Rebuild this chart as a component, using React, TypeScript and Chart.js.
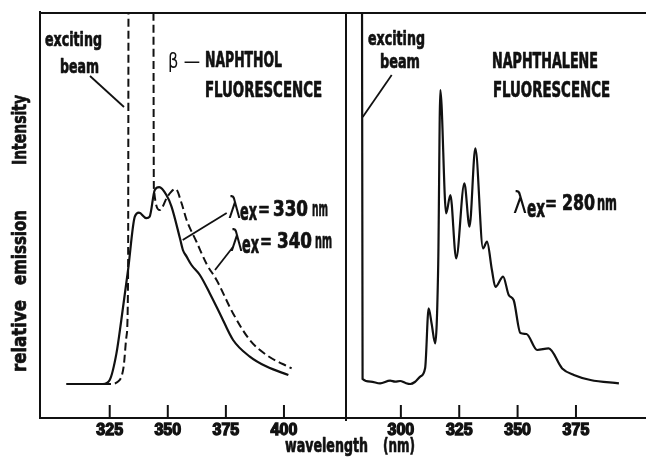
import React, { useEffect, useRef } from "react";
import { Chart, registerables } from "chart.js";

Chart.register(...registerables);

// ---------- data ----------
// beta-naphthol, excitation 330 nm (solid)
const NAPHTHOL_330_WL = [306.3, 322.1, 325, 327.9, 330, 332.9, 335.8, 337.6, 340.8, 342.2, 344.4, 346.3, 349.4, 351.6, 355.2, 356.5, 358.1, 360.2, 363.8, 368.1, 372.4, 378.1, 385.3, 392.5, 401.9];
const NAPHTHOL_330_I = [0, 0, 2, 15.3, 32, 57, 83.7, 85.7, 82.9, 83.7, 97, 98.4, 94.5, 88.7, 73, 67, 63.7, 59.5, 54.5, 45.3, 35.3, 22, 13.7, 8.7, 4.5];
// beta-naphthol, excitation 340 nm (dashed; includes exciting-beam excursions)
const NAPHTHOL_340_WL = [322.1, 325, 328.6, 331, 332.2, 332.9, 333.2, 343.7, 344.0, 346.6, 350, 353.4, 355.9, 358.1, 362.4, 366.7, 371, 378.1, 385.3, 392.5, 403.3];
const NAPHTHOL_340_I = [0, 0, 1.2, 8.7, 23.7, 52, 260, 260, 98, 87, 94, 97.5, 90.5, 82, 71, 60, 52, 35.3, 22, 14.5, 7.8];
// naphthalene, excitation 280 nm
const NAPHTHALENE_WL = [283.3, 283.6, 287, 291.1, 295.4, 297.5, 299.7, 302, 304, 306, 308.3, 310.4, 311.9, 313.2, 314.7, 316.0, 316.9, 319.4, 321.2, 323.7, 327.2, 329.4, 331.9, 335.2, 336.9, 339, 340.5, 343.8, 346.2, 348.3, 351.2, 353.8, 358.4, 363.3, 369.1, 374.1, 381.2, 393.4];
const NAPHTHALENE_I = [260, 2.5, 1.2, 0.3, 1.7, 1.2, 1.5, 0.5, 0, 1, 3.7, 8, 37.8, 30, 20.3, 60, 147, 85.3, 94.5, 62.8, 100.3, 78.7, 117.8, 67.8, 71.2, 57, 48.5, 53.7, 44.5, 42, 25.5, 25, 17, 17.8, 7.8, 4.5, 2, 0.3];

const LEFT_TICKS = [325, 350, 375, 400];
const RIGHT_TICKS = [300, 325, 350, 375];
const LEFT_RANGE = [295, 426.7];
const RIGHT_RANGE = [276.5, 405];
const Y_RANGE = [-17, 185.5];

// ---------- style ----------
const W = 646;
const H = 458;
const INK = "#111";
const NARROW = "'Liberation Sans Narrow', 'DejaVu Sans Condensed', 'Liberation Sans', sans-serif";
const B = (s: number) => `bold ${s}px ${NARROW}`;
const T = (s: number) => `${s}px 'DejaVu Sans', sans-serif`;

type Label = { t: string; x: number; y: number; w: number; f: string; thin?: boolean };

const LEFT_LABELS: Label[] = [
  { t: "exciting", x: 45, y: 46, w: 57, f: B(20) },
  { t: "beam", x: 60, y: 73, w: 39, f: B(20) },
  { t: "β —", x: 168, y: 68, w: 32, f: T(21), thin: true },
  { t: "NAPHTHOL", x: 205, y: 67, w: 77, f: B(21) },
  { t: "FLUORESCENCE", x: 205, y: 97, w: 117, f: B(21) },
  { t: "λ", x: 228, y: 218, w: 13, f: T(30), thin: true },
  { t: "ex", x: 240, y: 220, w: 17, f: B(24) },
  { t: "=", x: 258, y: 216, w: 12, f: B(20) },
  { t: "330", x: 273, y: 216, w: 35, f: B(21) },
  { t: "nm", x: 312, y: 216, w: 16, f: B(22) },
  { t: "λ", x: 230, y: 251, w: 13, f: T(30), thin: true },
  { t: "ex", x: 242, y: 253, w: 17, f: B(24) },
  { t: "=", x: 260, y: 248, w: 12, f: B(20) },
  { t: "340", x: 277, y: 248, w: 35, f: B(21) },
  { t: "nm", x: 315, y: 248, w: 17, f: B(22) },
  { t: "wavelength", x: 285, y: 452, w: 83, f: B(20) },
  { t: "(nm)", x: 383, y: 452, w: 32, f: B(20) },
];
const RIGHT_LABELS: Label[] = [
  { t: "exciting", x: 368, y: 45, w: 57, f: B(20) },
  { t: "beam", x: 380, y: 68, w: 40, f: B(20) },
  { t: "NAPHTHALENE", x: 492, y: 68, w: 106, f: B(21) },
  { t: "FLUORESCENCE", x: 493, y: 97, w: 117, f: B(21) },
  { t: "λ", x: 513, y: 213, w: 14, f: T(30), thin: true },
  { t: "ex", x: 527, y: 217, w: 18, f: B(24) },
  { t: "=", x: 545, y: 210, w: 12, f: B(20) },
  { t: "280", x: 562, y: 210, w: 33, f: B(21) },
  { t: "nm", x: 597, y: 210, w: 20, f: B(22) },
];
// y-axis title words (rotated), start y (bottom end) and length
const Y_TITLE: { t: string; y: number; w: number }[] = [
  { t: "relative", y: 372, w: 72 },
  { t: "emission", y: 285, w: 75 },
  { t: "Intensity", y: 165, w: 70 },
];
const LEFT_LEADERS = [
  [90, 76, 124, 107],
  [226.7, 213, 182.7, 240],
  [233, 247, 215, 270],
];
const RIGHT_LEADERS = [[391.7, 75, 362.7, 117]];

function drawFit(ctx: CanvasRenderingContext2D, l: Label) {
  ctx.save();
  ctx.font = l.f;
  ctx.textBaseline = "alphabetic";
  ctx.textAlign = "left";
  const m = ctx.measureText(l.t).width || 1;
  ctx.translate(l.x, l.y);
  ctx.scale(l.w / m, 1);
  ctx.fillStyle = INK;
  ctx.fillText(l.t, 0, 0);
  if (!l.thin) {
    ctx.strokeStyle = INK;
    ctx.lineWidth = 0.7;
    ctx.lineJoin = "round";
    ctx.strokeText(l.t, 0, 0);
  }
  ctx.restore();
}

function line(ctx: CanvasRenderingContext2D, x1: number, y1: number, x2: number, y2: number, w = 2) {
  ctx.save();
  ctx.strokeStyle = INK;
  ctx.lineWidth = w;
  ctx.beginPath();
  ctx.moveTo(x1, y1);
  ctx.lineTo(x2, y2);
  ctx.stroke();
  ctx.restore();
}

function drawTicks(chart: any, ticks: number[]) {
  const ctx = chart.ctx as CanvasRenderingContext2D;
  const xs = chart.scales.x;
  const bottom = chart.chartArea.bottom;
  ticks.forEach((v) => {
    const px = xs.getPixelForValue(v);
    line(ctx, px, bottom, px, bottom - 13, 2);
  });
}

const leftPlugin = {
  id: "leftDecor",
  beforeDraw(chart: any) {
    const ctx = chart.ctx as CanvasRenderingContext2D;
    ctx.save();
    ctx.fillStyle = "#fff";
    ctx.fillRect(0, 0, chart.width, chart.height);
    ctx.restore();
  },
  afterDraw(chart: any) {
    const ctx = chart.ctx as CanvasRenderingContext2D;
    const a = chart.chartArea;
    // frame
    line(ctx, a.left, a.top - 2, a.left, a.bottom + 1, 2);
    line(ctx, a.left - 1, a.top, W, a.top, 2);
    line(ctx, a.right, a.top, a.right, a.bottom + 3, 2);
    line(ctx, a.left - 1, a.bottom, a.right, a.bottom, 2);
    drawTicks(chart, LEFT_TICKS);
    LEFT_LABELS.forEach((l) => drawFit(ctx, l));
    LEFT_LEADERS.forEach(([x1, y1, x2, y2]) => line(ctx, x1, y1, x2, y2, 1.8));
    // y title
    Y_TITLE.forEach((w) => {
      ctx.save();
      ctx.translate(26, w.y);
      ctx.rotate(-Math.PI / 2);
      drawFit(ctx, { t: w.t, x: 0, y: 0, w: w.w, f: B(20) });
      ctx.restore();
    });
  },
};

const rightPlugin = {
  id: "rightDecor",
  afterDraw(chart: any) {
    const ctx = chart.ctx as CanvasRenderingContext2D;
    const a = chart.chartArea;
    line(ctx, a.left, a.bottom, W, a.bottom, 2);
    drawTicks(chart, RIGHT_TICKS);
    RIGHT_LABELS.forEach((l) => drawFit(ctx, l));
    RIGHT_LEADERS.forEach(([x1, y1, x2, y2]) => line(ctx, x1, y1, x2, y2, 1.8));
  },
};

function pts(xs: number[], ys: number[]) {
  return xs.map((x, i) => ({ x, y: ys[i] }));
}

function makeConfig(datasets: any[], range: number[], ticks: number[], padding: any, plugin: any) {
  return {
    type: "line" as const,
    data: { datasets },
    options: {
      animation: false as const,
      responsive: false,
      events: [],
      layout: { padding },
      plugins: { legend: { display: false }, tooltip: { enabled: false } },
      elements: { point: { radius: 0 } },
      scales: {
        x: {
          type: "linear" as const,
          position: "bottom" as const,
          min: range[0],
          max: range[1],
          grid: { display: false, drawTicks: false },
          border: { display: false },
          ticks: {
            color: INK,
            padding: 3,
            autoSkip: false,
            maxRotation: 0,
            textStrokeColor: INK,
            textStrokeWidth: 1.3,
            font: { family: "'Liberation Sans', Arial, sans-serif", size: 16, weight: "bold" as const },
          },
          afterBuildTicks: (s: any) => {
            s.ticks = ticks.map((v) => ({ value: v }));
          },
          afterFit: (s: any) => {
            s.height = 40;
          },
        },
        y: { display: false, min: Y_RANGE[0], max: Y_RANGE[1] },
      },
    },
    plugins: [plugin],
  };
}

export default function App() {
  const leftRef = useRef<HTMLCanvasElement>(null);
  const rightRef = useRef<HTMLCanvasElement>(null);

  useEffect(() => {
    const base = {
      borderColor: INK,
      borderWidth: 2.2,
      fill: false,
      pointRadius: 0,
      cubicInterpolationMode: "monotone" as const,
    };
    const left = new Chart(
      leftRef.current!,
      makeConfig(
        [
          { ...base, label: "λex = 330 nm", data: pts(NAPHTHOL_330_WL, NAPHTHOL_330_I) },
          { ...base, label: "λex = 340 nm", data: pts(NAPHTHOL_340_WL, NAPHTHOL_340_I), borderDash: [8, 4], borderWidth: 2 },
        ],
        LEFT_RANGE,
        LEFT_TICKS,
        { left: 40, right: W - 346, top: 13, bottom: 0 },
        leftPlugin
      ) as any
    );
    const right = new Chart(
      rightRef.current!,
      makeConfig(
        [{ ...base, label: "λex = 280 nm", data: pts(NAPHTHALENE_WL, NAPHTHALENE_I) }],
        RIGHT_RANGE,
        RIGHT_TICKS,
        { left: 346, right: 0, top: 13, bottom: 0 },
        rightPlugin
      ) as any
    );
    return () => {
      left.destroy();
      right.destroy();
    };
  }, []);

  const cs: React.CSSProperties = { position: "absolute", left: 0, top: 0, width: W, height: H };
  return (
    <div style={{ position: "absolute", left: 0, top: 0, width: W, height: H, background: "#fff" }}>
      <canvas ref={leftRef} width={W} height={H} style={cs} />
      <canvas ref={rightRef} width={W} height={H} style={cs} />
    </div>
  );
}
